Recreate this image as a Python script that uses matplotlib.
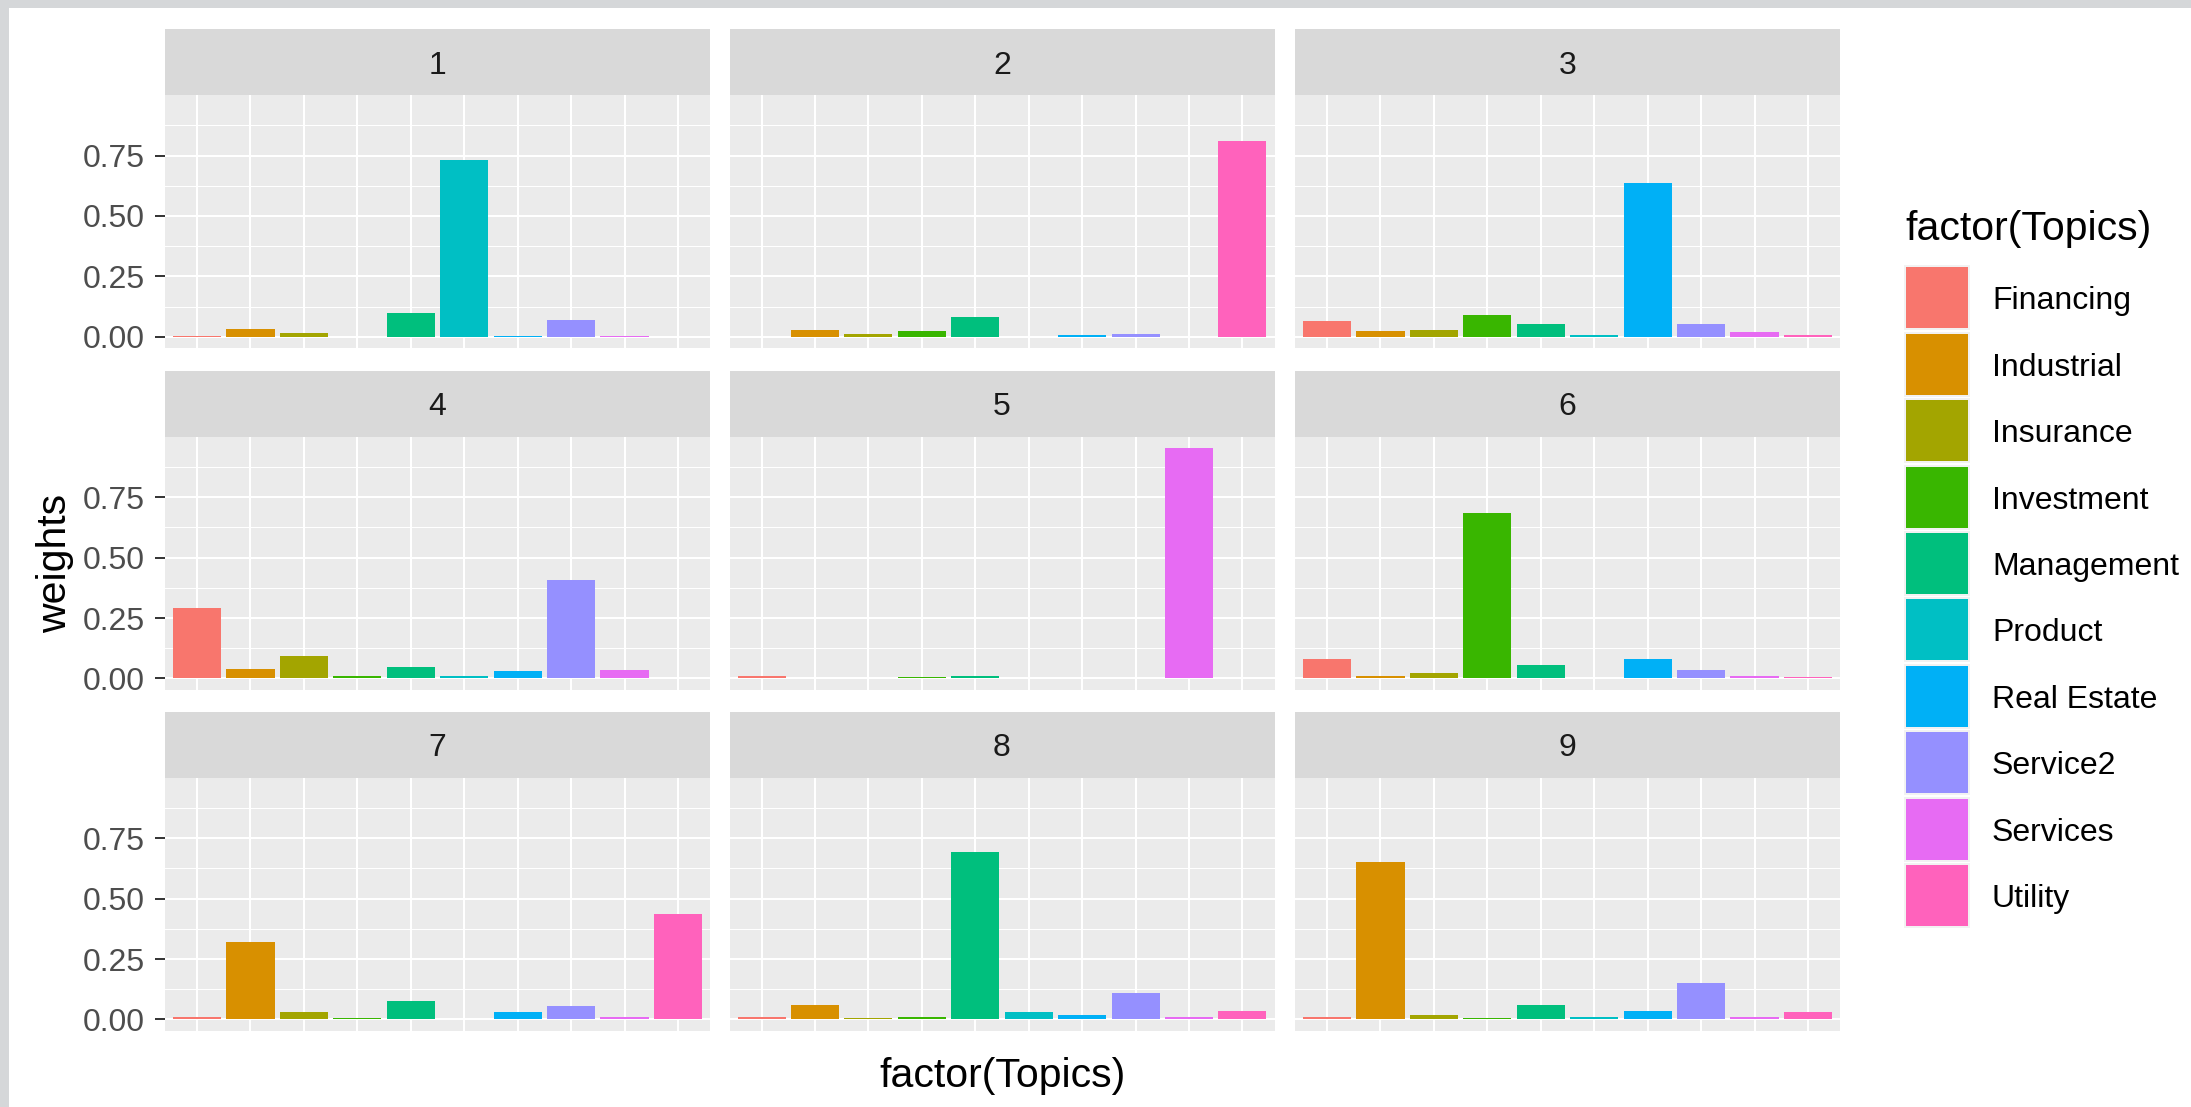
import matplotlib
matplotlib.use("Agg")
import matplotlib.pyplot as plt
from matplotlib.patches import Rectangle
import numpy as np

plt.rcParams['font.family'] = ['Liberation Sans', 'DejaVu Sans']

topics = ["Financing", "Industrial", "Insurance", "Investment", "Management",
          "Product", "Real Estate", "Service2", "Services", "Utility"]
colors = ["#F8766D", "#D89000", "#A3A500", "#39B600", "#00BF7D",
          "#00BFC4", "#00B0F6", "#9590FF", "#E76BF3", "#FF62BC"]
facets = ["1", "2", "3", "4", "5", "6", "7", "8", "9"]

w1 = [0.005, 0.033, 0.017, 0.000, 0.099, 0.731, 0.005, 0.069, 0.004, 0.000]
w2 = [0.000, 0.029, 0.012, 0.023, 0.083, 0.000, 0.006, 0.012, 0.000, 0.811]
w3 = [0.065, 0.023, 0.029, 0.090, 0.054, 0.007, 0.638, 0.054, 0.018, 0.007]
w4 = [0.291, 0.041, 0.095, 0.011, 0.047, 0.011, 0.029, 0.406, 0.035, 0.000]
w5 = [0.012, 0.000, 0.000, 0.006, 0.012, 0.000, 0.000, 0.000, 0.953, 0.000]
w6 = [0.079, 0.012, 0.023, 0.685, 0.054, 0.000, 0.079, 0.035, 0.012, 0.007]
w7 = [0.012, 0.322, 0.032, 0.008, 0.077, 0.000, 0.032, 0.055, 0.012, 0.436]
w8 = [0.012, 0.061, 0.007, 0.012, 0.693, 0.032, 0.019, 0.108, 0.012, 0.037]
w9 = [0.012, 0.651, 0.019, 0.007, 0.061, 0.012, 0.037, 0.151, 0.012, 0.032]
weights = [w1, w2, w3, w4, w5, w6, w7, w8, w9]

yticks = [0.0, 0.25, 0.50, 0.75]
ytick_labels = ["0.00", "0.25", "0.50", "0.75"]

W, H = 2191, 1107
fig = plt.figure(figsize=(W / 100, H / 100), dpi=100)
fig.patch.set_facecolor("#d5d7d9")

def frac(l, t, r, b):
    return [l / W, 1 - b / H, (r - l) / W, (b - t) / H]

# white plot background
bg = fig.add_axes([0, 0, 1, 1])
bg.set_xlim(0, W); bg.set_ylim(H, 0); bg.axis("off")
bg.add_patch(Rectangle((9, 8), W - 9, H - 8, facecolor="white", edgecolor="none"))

col_x = [165, 729.5, 1295]
pw = 545
row_top = [95, 436.7, 777.7]
ph = 253.3
sh = 66

ymax = max(max(w) for w in weights)
ylo, yhi = -0.05 * ymax, 1.05 * ymax
x = np.arange(len(topics))

for i, vals in enumerate(weights):
    r, c = divmod(i, 3)
    l = col_x[c]; t = row_top[r]
    ax = fig.add_axes(frac(l, t, l + pw, t + ph))
    ax.set_facecolor("#EBEBEB")
    ax.bar(x, vals, width=0.9, color=colors, zorder=3)
    ax.set_xlim(-0.6, len(topics) - 0.4)
    ax.set_ylim(ylo, yhi)
    ax.set_xticks(x)
    ax.set_yticks(yticks)
    ax.set_yticks([0.125, 0.375, 0.625, 0.875], minor=True)
    ax.grid(which="major", color="white", linewidth=1.5, zorder=1)
    ax.grid(which="minor", axis="y", color="white", linewidth=0.75, zorder=1)
    ax.set_axisbelow(True)
    for s in ax.spines.values():
        s.set_visible(False)
    ax.tick_params(axis="x", length=0, labelbottom=False)
    ax.tick_params(axis="y", which="minor", length=0)
    if c == 0:
        ax.set_yticklabels(ytick_labels)
        ax.tick_params(axis="y", which="major", length=7.5, width=1.4,
                       color="#333333", labelsize=23, labelcolor="#4D4D4D", pad=7)
    else:
        ax.tick_params(axis="y", which="major", length=0, labelleft=False)
    # strip
    sax = fig.add_axes(frac(l, t - sh, l + pw, t))
    sax.set_facecolor("#D9D9D9")
    sax.set_xticks([]); sax.set_yticks([])
    for s in sax.spines.values():
        s.set_visible(False)
    sax.text(0.5, 0.5, facets[i], ha="center", va="center_baseline", fontsize=23,
             color="#1A1A1A", transform=sax.transAxes)

# axis titles
fig.text(55 / W, 1 - 563 / H, "weights", rotation=90, ha="center", va="center",
         fontsize=29.5, color="black")
fig.text(1002.5 / W, 1 - 1076 / H, "factor(Topics)", ha="center", va="center",
         fontsize=29.5, color="black")

# legend
fig.text(1905 / W, 1 - 229 / H, "factor(Topics)", ha="left", va="center",
         fontsize=29.5, color="black")
pitch = 66.45
for k, (name, col) in enumerate(zip(topics, colors)):
    cy = 297.7 + k * pitch
    bg.add_patch(Rectangle((1904, cy - 32.5), 66, 65, facecolor="#F2F2F2", edgecolor="none"))
    bg.add_patch(Rectangle((1906, cy - 30.5), 62, 61, facecolor=col, edgecolor="none"))
    fig.text(1992 / W, 1 - cy / H, name, ha="left", va="center_baseline", fontsize=23,
             color="black")

fig.savefig("out.png", dpi=100, facecolor=fig.get_facecolor())
